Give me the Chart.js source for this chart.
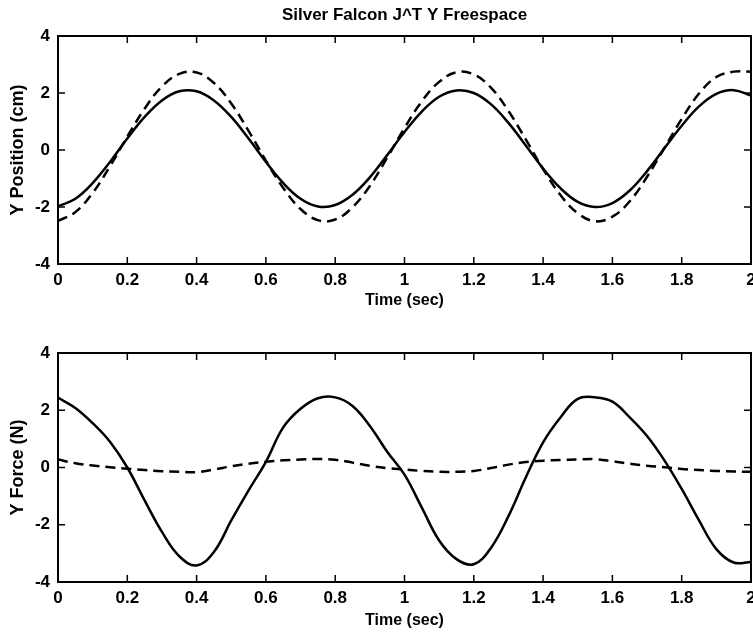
<!DOCTYPE html>
<html>
<head>
<meta charset="utf-8">
<title>Silver Falcon J^T Y Freespace</title>
<script src="https://cdn.jsdelivr.net/npm/chart.js@4.4.1/dist/chart.umd.min.js"></script>
<style>
    html, body { margin: 0; padding: 0; background: #fff; }
    #wrap { position: relative; width: 753px; height: 632px; }
    .painel { position: absolute; left: 0; }
</style>
</head>
<body>
<div id="wrap">
    <div class="painel" style="top:0;"><canvas id="chart-posicao" width="753" height="312"></canvas></div>
    <div class="painel" style="top:312px;"><canvas id="chart-forca" width="753" height="320"></canvas></div>
</div>
<script>
/* ====================================================
   SILVER FALCON - POSICAO E FORCA EM Y (J^T, ESPACO LIVRE)
   ==================================================== */

// Instantes de amostragem (s)
const tempos = [
    0.00, 0.05, 0.10, 0.15, 0.20, 0.25, 0.30, 0.35, 0.40, 0.45,
    0.50, 0.55, 0.60, 0.65, 0.70, 0.75, 0.80, 0.85, 0.90, 0.95,
    1.00, 1.05, 1.10, 1.15, 1.20, 1.25, 1.30, 1.35, 1.40, 1.45,
    1.50, 1.55, 1.60, 1.65, 1.70, 1.75, 1.80, 1.85, 1.90, 1.95, 2.00
];

// Posicao Y medida (cm) - linha cheia
const posicaoMedida = [
    -1.98, -1.71, -1.16, -0.42, 0.40, 1.16, 1.74, 2.06, 2.06, 1.74,
    1.16, 0.40, -0.42, -1.16, -1.71, -1.98, -1.93, -1.57, -0.96, -0.18,
    0.63, 1.35, 1.87, 2.09, 2.00, 1.60, 0.95, 0.16, -0.65, -1.34,
    -1.82, -2.00, -1.86, -1.42, -0.74, 0.06, 0.85, 1.53, 1.97, 2.10, 1.91
];

// Posicao Y desejada (cm) - tracejada
const posicaoDesejada = [
    -2.49, -2.18, -1.51, -0.57, 0.47, 1.45, 2.23, 2.67, 2.72, 2.35,
    1.63, 0.67, -0.37, -1.33, -2.07, -2.46, -2.44, -2.01, -1.26, -0.27,
    0.77, 1.71, 2.39, 2.73, 2.65, 2.18, 1.37, 0.37, -0.67, -1.58,
    -2.22, -2.50, -2.34, -1.80, -0.94, 0.07, 1.09, 1.98, 2.56, 2.75, 2.75
];

// Forca Y (N) - linha cheia
const forcaMedida = [
    2.44, 2.08, 1.55, 0.90, 0.00, -1.15, -2.25, -3.10, -3.42, -2.95,
    -1.85, -0.80, 0.20, 1.40, 2.05, 2.42, 2.45, 2.15, 1.45, 0.55,
    -0.25, -1.40, -2.55, -3.20, -3.38, -2.80, -1.70, -0.35, 0.88, 1.75,
    2.40, 2.45, 2.30, 1.75, 1.10, 0.25, -0.75, -1.85, -2.85, -3.32, -3.30
];

// Forca Y de referencia (N) - tracejada
const forcaReferencia = [
    0.28, 0.15, 0.07, 0.01, -0.04, -0.09, -0.13, -0.15, -0.16, -0.07,
    0.04, 0.13, 0.20, 0.25, 0.28, 0.30, 0.27, 0.17, 0.06, -0.02,
    -0.07, -0.12, -0.15, -0.15, -0.12, -0.02, 0.10, 0.19, 0.24, 0.26,
    0.28, 0.29, 0.22, 0.13, 0.06, 0.01, -0.05, -0.09, -0.12, -0.14, -0.15
];

// Marcas dos eixos
const ticksTempo = [0, 0.2, 0.4, 0.6, 0.8, 1, 1.2, 1.4, 1.6, 1.8, 2];
const ticksY = [-4, -2, 0, 2, 4];

const FONTE = '"Liberation Sans", Arial, Helvetica, sans-serif';
Chart.defaults.font.family = FONTE;
Chart.defaults.font.weight = 'bold';
Chart.defaults.color = '#000';

/**
 * Moldura preta em volta da area do grafico, com marcas para dentro nos 4 lados
 */
const molduraEixos = {
    id: 'molduraEixos',
    afterDatasetsDraw(chart) {
        const { ctx, chartArea: a, scales } = chart;
        const tam = 7;
        ctx.save();
        ctx.strokeStyle = '#000';
        ctx.lineWidth = 1.5;
        ctx.beginPath();
        scales.x.ticks.forEach(t => {
            const px = scales.x.getPixelForValue(t.value);
            ctx.moveTo(px, a.bottom); ctx.lineTo(px, a.bottom - tam);
            ctx.moveTo(px, a.top); ctx.lineTo(px, a.top + tam);
        });
        scales.y.ticks.forEach(t => {
            const py = scales.y.getPixelForValue(t.value);
            ctx.moveTo(a.left, py); ctx.lineTo(a.left + tam, py);
            ctx.moveTo(a.right, py); ctx.lineTo(a.right - tam, py);
        });
        ctx.stroke();
        ctx.lineWidth = 2;
        ctx.strokeRect(a.left, a.top, a.right - a.left, a.bottom - a.top);
        ctx.restore();
    }
};

function pontos(valores) {
    return tempos.map((t, i) => ({ x: t, y: valores[i] }));
}

function montarGrafico(id, cfg) {
    const ctx = document.getElementById(id).getContext('2d');
    return new Chart(ctx, {
        type: 'line',
        data: {
            datasets: [
                {
                    data: pontos(cfg.cheia),
                    borderColor: '#000',
                    borderWidth: 2.5,
                    pointRadius: 0,
                    tension: 0.4,
                    fill: false
                },
                {
                    data: pontos(cfg.tracejada),
                    borderColor: '#000',
                    borderWidth: 2.5,
                    borderDash: [10, 6],
                    pointRadius: 0,
                    tension: 0.4,
                    fill: false
                }
            ]
        },
        options: {
            responsive: false,
            animation: false,
            layout: { padding: cfg.padding },
            plugins: {
                legend: { display: false },
                tooltip: { enabled: false },
                title: cfg.titulo ? {
                    display: true,
                    text: cfg.titulo,
                    fullSize: false,
                    font: { size: 17, weight: 'bold' },
                    padding: { top: 5, bottom: 10.6 },
                    color: '#000'
                } : { display: false }
            },
            scales: {
                x: {
                    type: 'linear',
                    min: 0,
                    max: 2,
                    afterBuildTicks: s => { s.ticks = ticksTempo.map(v => ({ value: v })); },
                    afterFit: s => { s.height = cfg.alturaX; s.paddingLeft = 0; s.paddingRight = 0; },
                    grid: { display: false, drawTicks: false },
                    border: { display: false },
                    ticks: {
                        padding: 6,
                        maxRotation: 0,
                        autoSkip: false,
                        font: { size: 17, weight: 'bold' },
                        callback: v => String(Number(v.toFixed(1)))
                    },
                    title: {
                        display: true,
                        text: 'Time (sec)',
                        font: { size: 16, weight: 'bold' },
                        padding: { top: 0, bottom: cfg.padTituloX }
                    }
                },
                y: {
                    min: -4,
                    max: 4,
                    afterBuildTicks: s => { s.ticks = ticksY.map(v => ({ value: v })); },
                    afterFit: s => { s.width = 58; },
                    grid: { display: false, drawTicks: false },
                    border: { display: false },
                    ticks: {
                        padding: 8,
                        font: { size: 17, weight: 'bold' },
                        callback: v => String(v)
                    },
                    title: {
                        display: true,
                        text: cfg.rotuloY,
                        font: { size: 18, weight: 'bold' },
                        padding: { top: 7, bottom: 0 }
                    }
                }
            }
        },
        plugins: [molduraEixos]
    });
}

montarGrafico('chart-posicao', {
    cheia: posicaoMedida,
    tracejada: posicaoDesejada,
    titulo: 'Silver Falcon J^T Y Freespace',
    rotuloY: 'Y Position (cm)',
    padding: { left: 0, right: 2, top: 0, bottom: 0 },
    alturaX: 48,
    padTituloX: 2
});

montarGrafico('chart-forca', {
    cheia: forcaMedida,
    tracejada: forcaReferencia,
    titulo: null,
    rotuloY: 'Y Force (N)',
    padding: { left: 0, right: 2, top: 41, bottom: 0 },
    alturaX: 50,
    padTituloX: 2
});
</script>
</body>
</html>
